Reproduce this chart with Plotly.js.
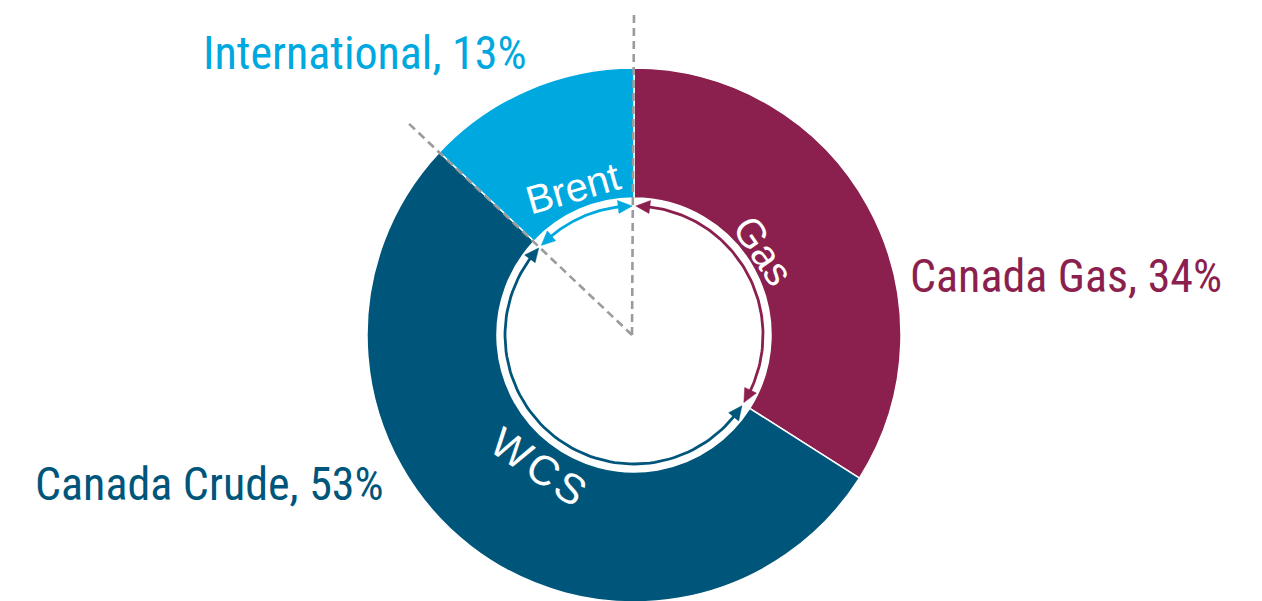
<!DOCTYPE html>
<html>
<head>
<meta charset="utf-8">
<script src="https://cdn.plot.ly/plotly-3.0.1.min.js"></script>
<style>
html,body{margin:0;padding:0;background:#fff;overflow:hidden;}
#chart{width:1262px;height:640px;}
</style>
</head>
<body>
<div id="chart"></div>
<script>
// ---- data ----
const labels = ['Canada Gas', 'Canada Crude', 'International'];
const values = [34, 53, 13];
const innerLabels = ['Gas', 'WCS', 'Brent'];
const colors = ['#8B1F4E', '#00567A', '#00A8E0'];

// ---- geometry (pixels) ----
const W = 1262, H = 640;
const cx = 634, cy = 335, R = 267;
const holeR = 137, arcR = 129;
const total = values.reduce((a, b) => a + b, 0);
const bounds = [0];
values.forEach((v, i) => bounds.push(bounds[i] + v / total * 360));

function pt(deg, r) {
  const t = deg * Math.PI / 180;
  return [cx + r * Math.sin(t), cy - r * Math.cos(t)];
}

const traces = [];
traces.push({
  type: 'pie',
  values: values,
  labels: labels,
  sort: false,
  direction: 'clockwise',
  rotation: 0,
  hole: holeR / R,
  marker: {colors: colors, line: {color: '#ffffff', width: 1.5}},
  textinfo: 'none',
  hoverinfo: 'none',
  showlegend: false,
  domain: {x: [(cx - R) / W, (cx + R) / W], y: [(H - cy - R) / H, (H - cy + R) / H]}
});

// arrows inside the hole
const tipGap = 0.8;          // degrees
const headLen = 14, headHalf = 6.5;
const headDeg = headLen / arcR * 180 / Math.PI;
values.forEach((v, i) => {
  const a0 = bounds[i] + tipGap, a1 = bounds[i + 1] - tipGap;
  const s0 = a0 + headDeg * 0.8, s1 = a1 - headDeg * 0.8;
  const xs = [], ys = [];
  const n = 80;
  for (let k = 0; k <= n; k++) {
    const p = pt(s0 + (s1 - s0) * k / n, arcR);
    xs.push(p[0]); ys.push(p[1]);
  }
  traces.push({type: 'scatter', mode: 'lines', x: xs, y: ys,
    line: {color: colors[i], width: 2.8}, hoverinfo: 'none', showlegend: false});
  [[a0, a0 + headDeg], [a1, a1 - headDeg]].forEach(([tipA, baseA]) => {
    const tip = pt(tipA, arcR);
    const b1 = pt(baseA, arcR + headHalf);
    const b2 = pt(baseA, arcR - headHalf);
    traces.push({type: 'scatter', mode: 'lines', x: [tip[0], b1[0], b2[0], tip[0]],
      y: [tip[1], b1[1], b2[1], tip[1]], fill: 'toself', fillcolor: colors[i],
      line: {color: colors[i], width: 0.5}, hoverinfo: 'none', showlegend: false});
  });
});

// dashed guide lines on the International slice edges
const shapes = [];
[[bounds[0], 323], [bounds[2], 313]].forEach(([a, len]) => {
  const p0 = pt(a, 0), p1 = pt(a, len);
  shapes.push({type: 'line', xref: 'x', yref: 'y', x0: p0[0] - 2, y0: p0[1], x1: p1[0], y1: p1[1],
    line: {color: '#9B9B9B', width: 2.6, dash: '8px,5px'}, layer: 'above'});
});

// annotations
const outerFont = 'Roboto Condensed, Liberation Sans Narrow, DejaVu Sans Condensed, sans-serif';
const outerPos = [[1066, 276], [209, 484], [365, 53]];
const annotations = labels.map((l, i) => ({
  x: outerPos[i][0], y: outerPos[i][1], xref: 'x', yref: 'y',
  text: l + ', ' + values[i] + '%', showarrow: false,
  xanchor: 'center', yanchor: 'middle',
  font: {family: outerFont, size: 46, color: colors[i]}
}));
// [angle from top (deg), radius (px), text rotation (deg)]
const innerPlace = [[57, 155, 56], [216, 163, 34], [-22.5, 159, -16]];
const innerText = innerLabels.map(s => s === 'WCS' ? 'W\u200aC\u200aS' : s);
innerLabels.forEach((s, i) => {
  const p = pt(innerPlace[i][0], innerPlace[i][1]);
  annotations.push({x: p[0], y: p[1], xref: 'x', yref: 'y', text: innerText[i], showarrow: false,
    xanchor: 'center', yanchor: 'middle', textangle: innerPlace[i][2],
    font: {family: 'Liberation Sans, Arial, sans-serif', size: s === 'WCS' ? 42 : 40, color: '#ffffff'}});
});

const layout = {
  width: W, height: H,
  margin: {l: 0, r: 0, t: 0, b: 0},
  paper_bgcolor: '#ffffff', plot_bgcolor: 'rgba(0,0,0,0)',
  xaxis: {range: [0, W], visible: false, fixedrange: true, domain: [0, 1]},
  yaxis: {range: [H, 0], visible: false, fixedrange: true, domain: [0, 1]},
  shapes: shapes,
  annotations: annotations,
  showlegend: false
};

Plotly.newPlot('chart', traces, layout, {displayModeBar: false, staticPlot: true});
</script>
</body>
</html>
